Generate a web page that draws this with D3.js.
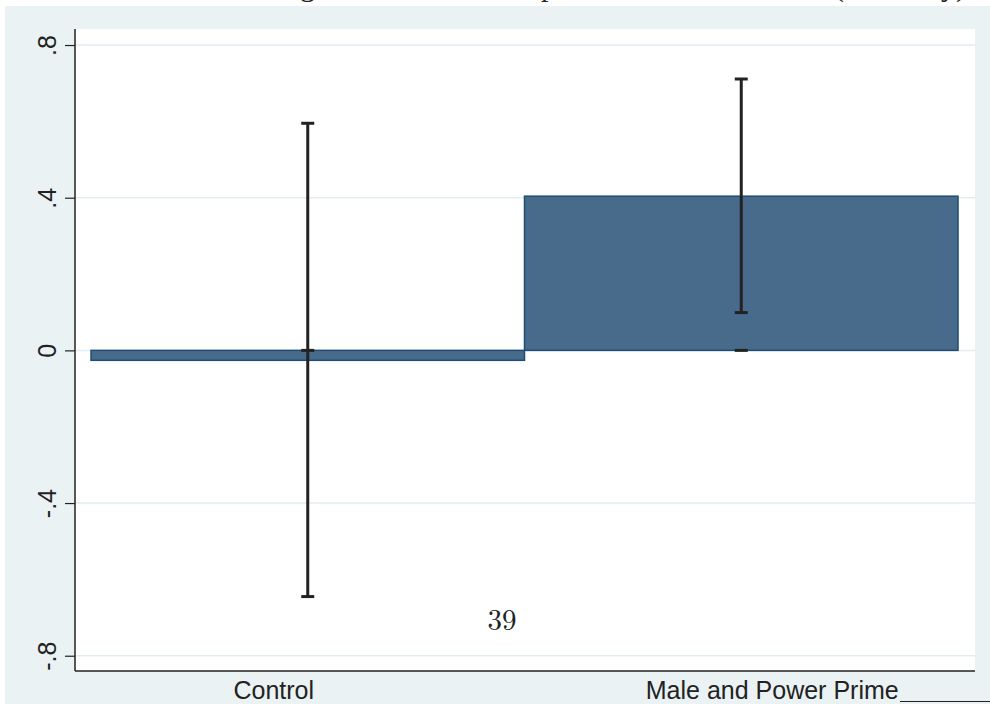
<!DOCTYPE html>
<html>
<head>
<meta charset="utf-8">
<script src="https://cdn.jsdelivr.net/npm/d3@7"></script>
<style>
  html, body { margin: 0; padding: 0; background: #ffffff; }
  svg { display: block; }
</style>
</head>
<body>
<svg id="chart" width="990" height="704"></svg>
<script>
// ---- data ----
const categories = ["Control", "Male and Power Prime"];
const means = [-0.026, 0.404];
const ciLow = [-0.645, 0.099];
const ciHigh = [0.595, 0.711];
const zeroCaps = [0, 0];
const yTicks = [-0.8, -0.4, 0, 0.4, 0.8];
const yTickLabels = ["-.8", "-.4", "0", ".4", ".8"];
const pageNumber = "39";
const topFragments = [
  { t: "g", x: 300 }, { t: "p", x: 541 }, { t: "(", x: 834 }, { t: "y)", x: 941 }
];
// label offsets (layout) relative to bar centers
const labelOffsets = [-34, 31];

const svg = d3.select("#chart");
const W = 990, H = 704;

// page-level background pieces
svg.append("rect").attr("x", 5).attr("y", 6).attr("width", W - 5).attr("height", H - 6)
  .attr("fill", "#eaf2f3");

const plot = { left: 75, right: 975, top: 29, bottom: 671 };
svg.append("rect").attr("x", plot.left).attr("y", plot.top)
  .attr("width", plot.right - plot.left).attr("height", plot.bottom - plot.top)
  .attr("fill", "#ffffff");

const y = d3.scaleLinear().domain([-0.84, 0.842]).range([plot.bottom, plot.top]);
const x = d3.scaleBand().domain(categories).range([91, 958]).padding(0);

// gridlines
svg.append("g").selectAll("line").data(yTicks).join("line")
  .attr("x1", plot.left).attr("x2", plot.right)
  .attr("y1", d => y(d)).attr("y2", d => y(d))
  .attr("stroke", "#e3edf0").attr("stroke-width", 1.5);

// bars
const bars = categories.map((c, i) => ({ c, v: means[i] }));
svg.append("g").selectAll("rect").data(bars).join("rect")
  .attr("x", d => x(d.c))
  .attr("width", x.bandwidth())
  .attr("y", d => y(Math.max(0, d.v)))
  .attr("height", d => Math.abs(y(d.v) - y(0)))
  .attr("fill", "#486b8c")
  .attr("stroke", "#1f4c75")
  .attr("stroke-width", 1.5);

// error bars
const eb = svg.append("g").attr("stroke", "#222222").attr("stroke-width", 3);
const capW = 13;
categories.forEach((c, i) => {
  const cx = x(c) + x.bandwidth() / 2;
  eb.append("line").attr("x1", cx).attr("x2", cx).attr("y1", y(ciLow[i])).attr("y2", y(ciHigh[i]));
  [ciLow[i], ciHigh[i], zeroCaps[i]].forEach(v => {
    eb.append("line").attr("x1", cx - capW / 2).attr("x2", cx + capW / 2)
      .attr("y1", y(v)).attr("y2", y(v));
  });
});

// y axis
const yAxis = d3.axisLeft(y).tickValues(yTicks).tickSize(10).tickPadding(0)
  .tickFormat((d, i) => yTickLabels[i]);
const gy = svg.append("g").attr("transform", `translate(${plot.left},0)`).call(yAxis);
gy.select(".domain").remove();
gy.selectAll(".tick line").attr("stroke", "#222").attr("stroke-width", 1.2);
gy.selectAll(".tick text").remove();
gy.selectAll(".tick").append("text")
  .attr("transform", "translate(-19,0) rotate(-90)")
  .attr("text-anchor", "middle")
  .attr("fill", "#222")
  .attr("font-family", "Liberation Sans, Arial, sans-serif")
  .attr("font-size", 25)
  .text((d, i) => yTickLabels[i]);
svg.append("line").attr("x1", plot.left).attr("x2", plot.left)
  .attr("y1", plot.top).attr("y2", plot.bottom).attr("stroke", "#222").attr("stroke-width", 1.5);

// x axis
svg.append("line").attr("x1", plot.left).attr("x2", plot.right)
  .attr("y1", plot.bottom).attr("y2", plot.bottom).attr("stroke", "#222").attr("stroke-width", 1.5);
svg.append("g").selectAll("text").data(categories).join("text")
  .attr("x", (d, i) => x(d) + x.bandwidth() / 2 + labelOffsets[i])
  .attr("y", 699)
  .attr("text-anchor", "middle")
  .attr("fill", "#222")
  .attr("font-family", "Liberation Sans, Arial, sans-serif")
  .attr("font-size", 25)
  .text(d => d);

// page overlay: underline after label, page number, clipped title fragments
svg.append("line").attr("x1", 900).attr("x2", 990).attr("y1", 701.5).attr("y2", 701.5)
  .attr("stroke", "#222").attr("stroke-width", 1);
svg.append("text").attr("x", 502).attr("y", 630).attr("text-anchor", "middle")
  .attr("font-family", "Latin Modern Roman, DejaVu Serif, Liberation Serif, serif")
  .attr("font-size", 29).attr("fill", "#222").text(pageNumber);
svg.append("g").selectAll("text").data(topFragments).join("text")
  .attr("x", d => d.x).attr("y", -4)
  .attr("font-family", "Liberation Serif, serif")
  .attr("font-size", 30).attr("fill", "#222").text(d => d.t);
</script>
</body>
</html>
